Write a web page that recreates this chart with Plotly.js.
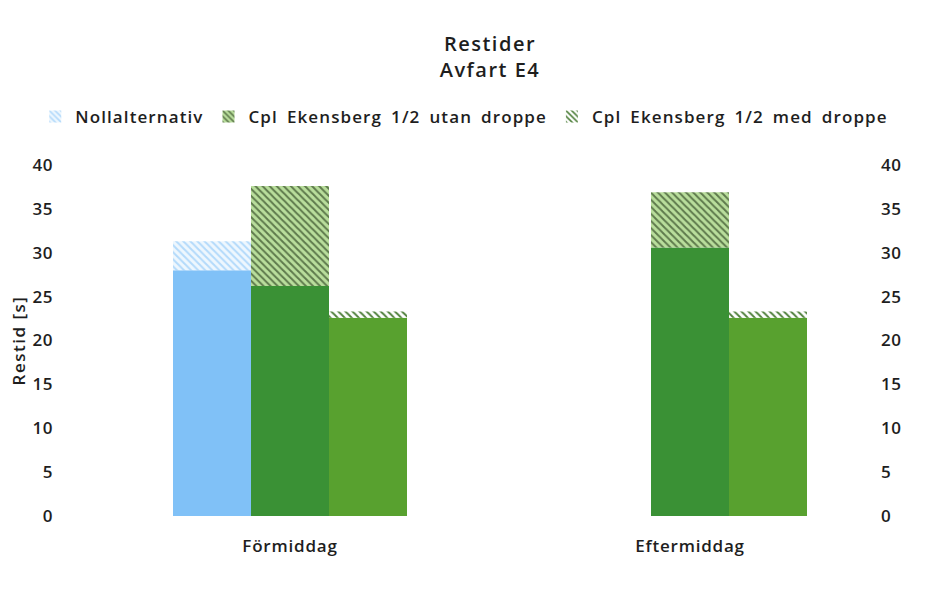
<!DOCTYPE html>
<html>
<head>
<meta charset="utf-8">
<script src="https://cdn.plot.ly/plotly-3.0.1.min.js"></script>
<style>
html,body{margin:0;padding:0;background:#fff;}
#chart{width:940px;height:589px;}
.legendtext{letter-spacing:1.1px;word-spacing:3.5px;}
.xtick text{letter-spacing:0.8px;}
.ytick text,.y2tick text{letter-spacing:0.5px;}
.gtitle{letter-spacing:1.5px;}
.ytitle{letter-spacing:1.5px;}
</style>
</head>
<body>
<div id="chart"></div>
<script>
// Data
const categories = ["Förmiddag", "Eftermiddag"];
const seriesNames = ["Nollalternativ", "Cpl Ekensberg 1/2 utan droppe", "Cpl Ekensberg 1/2 med droppe"];
const nollSolid = [28.0, null];
const nollTotal = [31.3, null];
const utanSolid = [26.2, 30.6];
const utanTotal = [37.6, 36.9];
const medSolid = [22.6, 22.6];
const medTotal = [23.3, 23.3];
const yTicks = [0, 5, 10, 15, 20, 25, 30, 35, 40];

const solidColors = ["#80c1f7", "#3a9135", "#58a12f"];
const hatchFg = ["#b3dafb", "#5e7a4c", "#4e7f3a"];
const hatchBg = ["#eef7fe", "#b9de9c", "#ffffff"];

const solids = [nollSolid, utanSolid, medSolid];
const totals = [nollTotal, utanTotal, medTotal];

const F = "Open Sans, Carlito, sans-serif";
const traces = [];
for (let i = 0; i < 3; i++) {
  const inc = totals[i].map((t, k) => (t == null || solids[i][k] == null) ? null : t - solids[i][k]);
  traces.push({
    type: "bar", x: categories, y: solids[i], name: seriesNames[i],
    offsetgroup: String(i), showlegend: false, hoverinfo: "skip",
    marker: {color: solidColors[i], line: {width: 0}}
  });
  traces.push({
    type: "bar", x: categories, y: inc, base: solids[i], name: seriesNames[i],
    offsetgroup: String(i), showlegend: true,
    marker: {color: hatchBg[i], line: {width: 0},
      pattern: {shape: "\\", fgcolor: hatchFg[i], bgcolor: hatchBg[i], size: 5, solidity: 0.4}}
  });
}
// invisible trace for the right-hand axis
traces.push({type: "scatter", x: categories, y: [0, 0], yaxis: "y2", mode: "none",
  showlegend: false, hoverinfo: "skip"});

const txt = "#1e1e1e";
const layout = {
  width: 940, height: 589,
  paper_bgcolor: "#ffffff", plot_bgcolor: "#ffffff",
  margin: {l: 100, r: 60, t: 165, b: 73},
  font: {family: F, size: 17, color: txt, weight: 600},
  title: {text: "Restider<br>Avfart E4", x: 0.5, xanchor: "center", xref: "paper",
    y: 0.913, yanchor: "middle",
    font: {family: F, size: 20, color: txt, weight: 600}},
  barmode: "group", bargap: 0.415, bargroupgap: 0,
  showlegend: true,
  legend: {orientation: "h", x: -0.083, xanchor: "left", y: 1.137, yanchor: "middle",
    font: {family: F, size: 17, color: txt, weight: 600}, itemwidth: 30,
    traceorder: "normal", bgcolor: "rgba(0,0,0,0)"},
  xaxis: {type: "category", range: [-0.475, 1.475], showgrid: false, zeroline: false,
    showline: false, ticks: "", ticklabelstandoff: 18,
    tickfont: {family: F, size: 17, color: txt, weight: 600}},
  yaxis: {range: [0, 40], tickvals: yTicks, ticktext: yTicks.map(String), showgrid: false,
    zeroline: false, showline: false, ticks: "", ticklabelstandoff: 46,
    tickfont: {family: F, size: 17, color: txt, weight: 600},
    title: {text: "Restid [s]", standoff: 2, font: {family: F, size: 17, color: txt, weight: 600}}},
  yaxis2: {range: [0, 40], tickvals: yTicks, ticktext: yTicks.map(String), overlaying: "y",
    side: "right", showgrid: false, zeroline: false, showline: false, ticks: "",
    ticklabelstandoff: 0, tickfont: {family: F, size: 17, color: txt, weight: 600}}
};
Plotly.newPlot("chart", traces, layout, {displayModeBar: false, staticPlot: true});
</script>
</body>
</html>
